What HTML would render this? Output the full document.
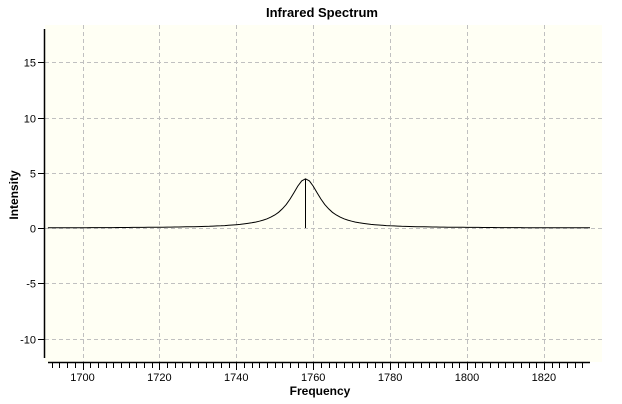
<!DOCTYPE html>
<html><head><meta charset="utf-8"><style>
body{margin:0;background:#fff;}
svg{display:block;font-family:"Liberation Sans",Arial,sans-serif;}
</style></head><body>
<svg id="s" width="622" height="404" xmlns="http://www.w3.org/2000/svg">
<rect x="45" y="25" width="557" height="337" fill="#fffff4"/>
<g id="grid" stroke="#c0c0c0" stroke-dasharray="4,3" stroke-width="1"></g>
<line x1="44.5" y1="29" x2="44.5" y2="358" stroke="#000" stroke-width="1.5"/>
<line x1="48" y1="362.5" x2="590" y2="362.5" stroke="#000" stroke-width="1.5"/>
<g id="ticks" stroke="#000" stroke-width="1"></g>
<g id="labels" font-size="11" fill="#000"></g>
<path id="curve" fill="none" stroke="#000" stroke-width="1"/>
<line x1="305.5" y1="179" x2="305.5" y2="228" stroke="#000" stroke-width="1"/>
<text x="322" y="17" font-size="13" font-weight="bold" text-anchor="middle">Infrared Spectrum</text>
<text x="320" y="395" font-size="12" font-weight="bold" text-anchor="middle">Frequency</text>
<text transform="translate(18,195) rotate(-90)" font-size="12" font-weight="bold" text-anchor="middle">Intensity</text>
</svg>
<script>
var NS="http://www.w3.org/2000/svg";
function X(f){return 82.5+(f-1700)*3.845;}
function Y(v){return 228-v*11.05;}
function el(p,t,a){var e=document.createElementNS(NS,t);for(var k in a)e.setAttribute(k,a[k]);document.getElementById(p).appendChild(e);return e;}
for(var f=1700;f<=1820;f+=20){var x=Math.round(X(f))+0.5;el("grid","line",{x1:x,y1:25,x2:x,y2:362});
 var t=el("labels","text",{x:X(f),y:381,"text-anchor":"middle"});t.textContent=f;}
for(var v=-10;v<=15;v+=5){var y=Math.round(Y(v))+0.5;el("grid","line",{x1:45,y1:y,x2:602,y2:y});
 el("ticks","line",{x1:38,y1:y,x2:44,y2:y});
 var t=el("labels","text",{x:36,y:y+4,"text-anchor":"end"});t.textContent=v;}
for(var f=1692;f<=1830;f+=2){var x=Math.round(X(f))+0.5;var big=(f%20==0);
 el("ticks","line",{x1:x,y1:363,x2:x,y2:big?370:368});}
var d="";for(var f=1691;f<=1832;f+=1){var v=4.45/(1+Math.pow((f-1758)/4.8,2));d+=(d?"L":"M")+X(f).toFixed(1)+","+Y(v).toFixed(1);}
document.getElementById("curve").setAttribute("d",d);
</script>
</body></html>
